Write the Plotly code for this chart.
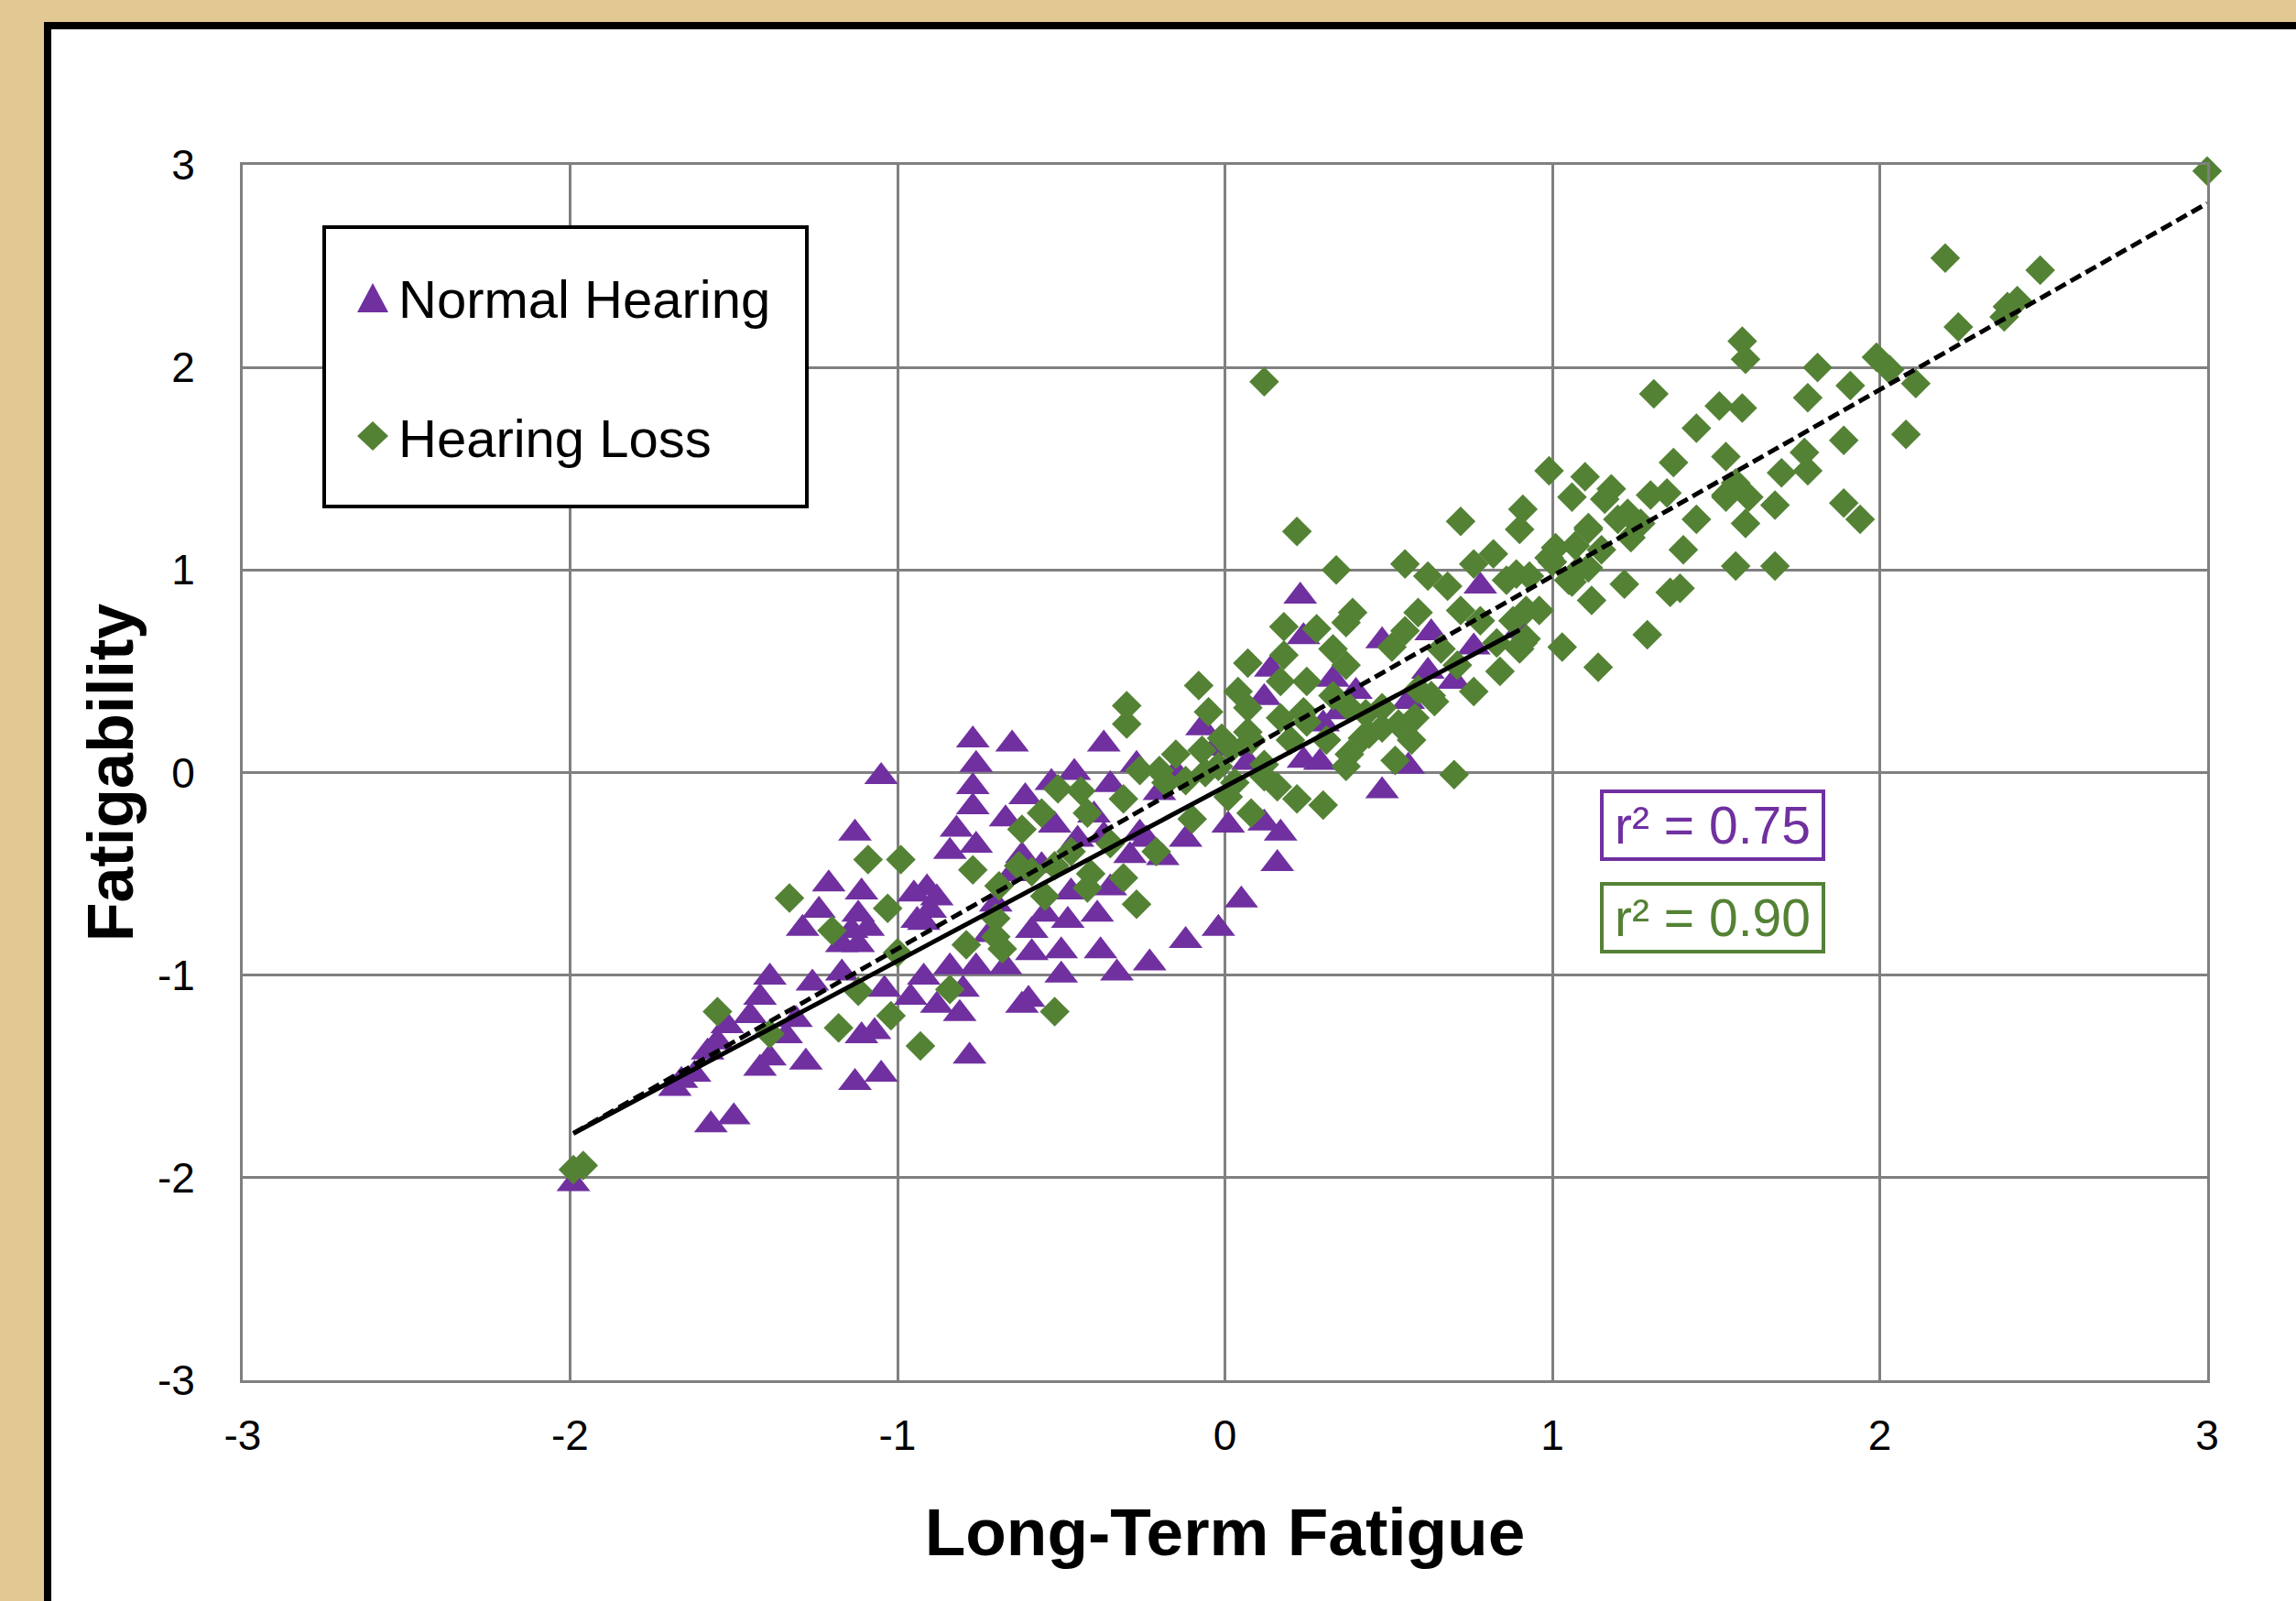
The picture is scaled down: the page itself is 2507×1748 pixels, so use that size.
import numpy as np
import plotly.graph_objects as go

# ---------------- data ----------------
nh_x = [-0.77, -0.65, -0.76, -0.77, -0.77, -1.05, -0.82, -0.76, -0.84, -0.67,
        -1.13, -1.21, -1.11, -0.91, -0.95, -0.88, -0.90, -0.92, -1.24, -1.29,
        -1.12, -1.09, -1.17, -1.12, -1.14, -0.94, -1.39, -1.42, -1.26, -1.17,
        -1.04, -0.96, -0.88, -0.81, -0.80, -0.92, -0.84, -0.76, -0.67, -0.62,
        -1.52, -1.55, -1.34, -1.31, -1.39, -1.42, -1.28, -1.11, -1.07, -1.13,
        -1.05, -0.78, -1.62, -1.68, -1.57, -1.50, -1.99, -1.66, -1.58, -1.45,
        0.23, 0.78, 0.48, 0.63, 0.76, 0.24, 0.14, 0.33, -0.07, -0.37,
        -0.46, -0.53, -0.61, -0.27, 0.30, 0.56, 0.48, 0.24, 0.01, -0.12,
        0.17, 0.16, 0.12, -0.19, -0.29, 0.05, -0.02, -0.12, -0.23, -0.33,
        -0.38, -0.50, -0.50, -0.59, -0.60, -0.39, -0.48, -0.59, -0.35, -0.47,
        -0.52, -0.40, 0.56, 0.29, -0.35, -0.26, 0.90, 0.35, 0.40, 0.12,
        -0.03, 0.07, -0.15, -0.20, -0.62, -0.56, -0.37, -0.24, -0.45, -0.65,
        -0.70, -0.72, -0.55, 0.70, 0.62]
nh_y = [0.16, 0.14, 0.04, -0.07, -0.17, -0.02, -0.28, -0.36, -0.39, -0.23,
        -0.30, -0.55, -0.59, -0.57, -0.60, -0.62, -0.68, -0.74, -0.68, -0.77,
        -0.70, -0.77, -0.85, -0.85, -0.78, -0.73, -1.01, -1.11, -1.04, -0.99,
        -1.07, -1.11, -1.15, -1.19, -1.07, -1.01, -0.96, -0.96, -0.96, -1.15,
        -1.25, -1.33, -1.30, -1.22, -1.41, -1.46, -1.43, -1.30, -1.28, -1.53,
        -1.49, -1.40, -1.49, -1.56, -1.74, -1.70, -2.03, -1.52, -1.38, -1.20,
        0.87, 0.92, 0.65, 0.69, 0.62, 0.67, 0.51, 0.46, 0.22, 0.14,
        0.00, -0.05, -0.12, 0.04, 0.24, 0.03, -0.09, 0.06, -0.26, -0.33,
        -0.30, -0.45, -0.25, -0.42, -0.41, -0.63, -0.77, -0.83, -0.94, -0.99,
        -0.88, -0.88, -1.00, -0.89, -1.12, -0.70, -0.73, -0.78, -0.57, -0.59,
        -0.26, -0.21, 0.35, 0.05, -0.06, -0.30, 0.70, 0.30, 0.40, 0.37,
        0.12, 0.05, 0.00, -0.10, -0.41, -0.46, -0.31, -0.33, -0.33, -0.50,
        -0.65, -0.80, -0.70, 0.45, 0.50]

hl_x = [-1.99, -1.96, -1.55, -1.39, -1.33, -1.09, -0.99, -1.03, -1.20, -1.18,
        -1.02, -0.93, -1.12, -0.77, -0.79, -0.84, -0.70, -0.68, -0.62, -0.63,
        -0.55, -0.56, -0.51, -0.42, -0.31, -0.31, -0.27, -0.26, -0.30, -0.30,
        -0.52, -1.00, -0.69, -0.70, -0.42, -0.21, -0.10, -0.35,
        -0.08, 0.04, -0.05, 0.07, 0.17, -0.01, 0.07, -0.07, -0.15, -0.20,
        -0.12, -0.06, 0.03, 0.12, 0.16, 0.22, 0.30, 0.08, 0.01, 0.07,
        0.17, 0.25, 0.18, 0.33, 0.37, 0.18, 0.28, 0.37, 0.39, 0.22,
        0.34, 0.12, 0.55, 0.62, 0.68, 0.72, 0.76, 0.82, 0.90, 0.91,
        0.89, 0.92, 0.59, 0.55, 0.51, 0.66, 0.72, 0.71, 0.78, 0.84,
        0.76, 0.64, 0.58, 0.57, 0.48, 0.42, 0.38, 0.37, 0.31, 0.52,
        0.70, 0.86, 0.96, 0.91,
        0.99, 1.10, 1.37, 1.06, 1.18, 1.30, 1.08, 1.22, 1.40, 1.39,
        1.29, 1.14, 1.03, 1.58, 1.59, 1.81, 1.99, 2.03, 2.11, 1.91,
        1.78, 1.31, 1.51, 1.58, 1.44, 1.89, 2.08, 2.24, 2.39, 2.42,
        2.49, 1.53, 1.70, 1.77, 1.78, 1.16, 1.35, 1.23, 1.27, 1.53,
        1.60, 1.56, 1.68, 1.89, 1.94, 1.59, 1.11, 1.07, 0.99, 1.06,
        1.56, 1.68, 1.36, 1.12, 1.15, 3.00, 2.20, 2.38,
        0.90, 0.92, 0.83, 0.88, 0.59, 0.63, 0.43, 0.48, 0.53, 0.38,
        0.25, 0.33, 0.44, 0.08, 0.12, 0.20, 0.24, 0.02, -0.18, -0.02,
        -0.44, -0.59, -0.52, -0.41, -0.47,
        1.00, 1.05, 1.11, 1.01, 1.11, 1.20, 1.24, 1.44, 1.53, 0.93]
hl_y = [-1.96, -1.94, -1.18, -1.29, -0.62, -0.43, -0.43, -0.67, -0.78, -1.26,
        -1.20, -1.35, -1.08, -0.48, -0.85, -1.07, -0.81, -0.87, -0.28, -0.46,
        -0.61, -0.20, -0.08, -0.20, -0.13, -0.52, -0.65, 0.01, 0.33, 0.24,
        -1.18, -0.89, -0.56, -0.72, -0.57, -0.39, -0.23, -0.35,
        0.43, 0.40, 0.30, 0.32, 0.27, 0.17, 0.20, 0.11, 0.09, 0.01,
        -0.04, 0.00, -0.05, -0.02, -0.07, -0.13, -0.16, -0.20, -0.12, 0.54,
        0.45, 0.45, 0.58, 0.61, 0.53, 0.72, 0.71, 0.74, 0.79, 1.19,
        1.00, 1.93, 1.03, 0.97, 0.92, 1.24, 1.03, 1.08, 1.20, 1.30,
        0.98, 0.80, 0.79, 0.70, 0.62, 0.61, 0.80, 0.53, 0.75, 0.50,
        0.40, 0.35, 0.27, 0.16, 0.22, 0.17, 0.09, 0.03, 0.16, 0.06,
        -0.01, 0.95, 0.80, 0.64,
        1.49, 1.46, 1.53, 1.36, 1.40, 1.37, 1.00, 0.93, 1.10, 0.91,
        0.68, 0.52, 0.62, 2.13, 2.04, 2.00, 2.05, 1.99, 1.92, 1.91,
        1.85, 1.87, 1.81, 1.80, 1.70, 1.64, 1.67, 2.20, 2.30, 2.33,
        2.48, 1.56, 1.48, 1.58, 1.49, 1.35, 1.38, 1.28, 1.23, 1.36,
        1.36, 1.43, 1.32, 1.33, 1.25, 1.23, 1.20, 1.12, 1.06, 0.94,
        1.02, 1.02, 0.89, 0.85, 1.10, 2.97, 2.54, 2.25,
        0.61, 0.66, 0.64, 0.75, 0.41, 0.38, 0.29, 0.32, 0.24, 0.32,
        0.25, 0.38, 0.19, 0.16, 0.04, 0.16, 0.30, 0.12, -0.05, 0.03,
        -0.09, -0.49, -0.46, -0.50, -0.39,
        1.04, 0.95, 1.01, 1.11, 1.21, 1.25, 1.16, 1.25, 1.37, 0.97]

# linear trendlines (coefficients)
nh_slope, nh_intercept = 0.86, -0.07
hl_slope, hl_intercept = 0.92, 0.05
nh_r2_text = "r\u00b2 = 0.75"
hl_r2_text = "r\u00b2 = 0.90"

series_names = ["Normal Hearing", "Hearing Loss"]
tick_vals = [-3, -2, -1, 0, 1, 2, 3]
tick_text = ["-3", "-2", "-1", "0", "1", "2", "3"]
x_title = "Long-Term Fatigue"
y_title = "Fatigability"

# ---------------- styling ----------------
PURPLE = "#7030A0"
GREEN = "#548235"
GRID = "#808080"
TAN = "#E2C994"
FONT = "Liberation Sans, Arial, sans-serif"

W, H = 2507, 1748
ML, MR, MT, MB = 265, 97, 180, 241
PW, PH = W - ML - MR, H - MT - MB


def pxx(p):
    return (p - ML) / PW


def pxy(p):
    return (H - MB - p) / PH


fig = go.Figure()

fig.add_trace(go.Scatter(
    x=nh_x, y=nh_y, mode="markers", name=series_names[0], showlegend=False,
    marker=dict(symbol="triangle-up", size=32, color=PURPLE, line=dict(width=0)),
    cliponaxis=False))
fig.add_trace(go.Scatter(
    x=hl_x, y=hl_y, mode="markers", name=series_names[1], showlegend=False,
    marker=dict(symbol="diamond", size=25, color=GREEN, line=dict(width=0)),
    cliponaxis=False))

nh_lx = np.array([min(nh_x), max(nh_x)])
hl_lx = np.array([min(hl_x), max(hl_x)])
fig.add_trace(go.Scatter(
    x=nh_lx, y=nh_slope * nh_lx + nh_intercept, mode="lines", showlegend=False,
    name="Normal Hearing fit", line=dict(color="black", width=5)))
fig.add_trace(go.Scatter(
    x=hl_lx, y=hl_slope * hl_lx + hl_intercept, mode="lines", showlegend=False,
    name="Hearing Loss fit", line=dict(color="black", width=5, dash="13px,6px")))

axis_common = dict(
    range=[-3, 3], tickvals=tick_vals, ticktext=tick_text,
    showgrid=True, gridcolor=GRID, gridwidth=3, zeroline=False,
    showline=True, linecolor=GRID, linewidth=3, mirror=True, ticks="",
    tickfont=dict(family=FONT, size=46, color="black"),
)

fig.update_layout(
    width=W, height=H,
    margin=dict(l=ML, r=MR, t=MT, b=MB, autoexpand=False),
    paper_bgcolor=TAN, plot_bgcolor="white",
    font=dict(family=FONT, color="black"),
    showlegend=False,
    xaxis=dict(**axis_common, ticklabelstandoff=18,
               title=dict(text=x_title, standoff=55,
                          font=dict(family=FONT, size=73, color="black", weight="bold"))),
    yaxis=dict(**axis_common, ticklabelstandoff=40,
               title=dict(text=y_title, standoff=4,
                          font=dict(family=FONT, size=70, color="black", weight="bold"))),
)

shapes = [
    # white slide panel with black frame
    dict(type="rect", xref="paper", yref="paper", layer="below",
         x0=pxx(52), x1=pxx(2560), y0=pxy(1800), y1=pxy(28),
         line=dict(color="black", width=8), fillcolor="white"),
    # legend box
    dict(type="rect", xref="paper", yref="paper", layer="above",
         x0=pxx(354), x1=pxx(881), y0=pxy(553), y1=pxy(248),
         line=dict(color="black", width=4), fillcolor="white"),
    # legend keys
    dict(type="path", xref="paper", yref="paper", layer="above",
         path=f"M {pxx(390)},{pxy(341)} L {pxx(424)},{pxy(341)} L {pxx(407)},{pxy(309)} Z",
         fillcolor=PURPLE, line=dict(width=0)),
    dict(type="path", xref="paper", yref="paper", layer="above",
         path=(f"M {pxx(407)},{pxy(460)} L {pxx(424)},{pxy(476)} "
               f"L {pxx(407)},{pxy(492)} L {pxx(390)},{pxy(476)} Z"),
         fillcolor=GREEN, line=dict(width=0)),
]
fig.update_layout(shapes=shapes)

annotations = [
    dict(xref="paper", yref="paper", x=pxx(435), y=pxy(327), xanchor="left",
         yanchor="middle", text=series_names[0], showarrow=False, borderpad=0,
         borderwidth=0, font=dict(family=FONT, size=58, color="black")),
    dict(xref="paper", yref="paper", x=pxx(435), y=pxy(478), xanchor="left",
         yanchor="middle", text=series_names[1], showarrow=False, borderpad=0,
         borderwidth=0, font=dict(family=FONT, size=58, color="black")),
    dict(xref="paper", yref="paper", x=pxx(1870), y=pxy(901), xanchor="center",
         yanchor="middle", text=nh_r2_text, showarrow=False, width=232, height=64,
         borderpad=3, borderwidth=4, bordercolor=PURPLE, bgcolor="white",
         font=dict(family=FONT, size=57, color=PURPLE)),
    dict(xref="paper", yref="paper", x=pxx(1870), y=pxy(1002), xanchor="center",
         yanchor="middle", text=hl_r2_text, showarrow=False, width=232, height=64,
         borderpad=3, borderwidth=4, bordercolor=GREEN, bgcolor="white",
         font=dict(family=FONT, size=57, color=GREEN)),
]
fig.update_layout(annotations=annotations)

fig.write_html(
    "out.html",
    config={"displayModeBar": False},
    post_script=("document.body.style.margin='0';"
                 "document.body.style.background='" + TAN + "';"),
)
